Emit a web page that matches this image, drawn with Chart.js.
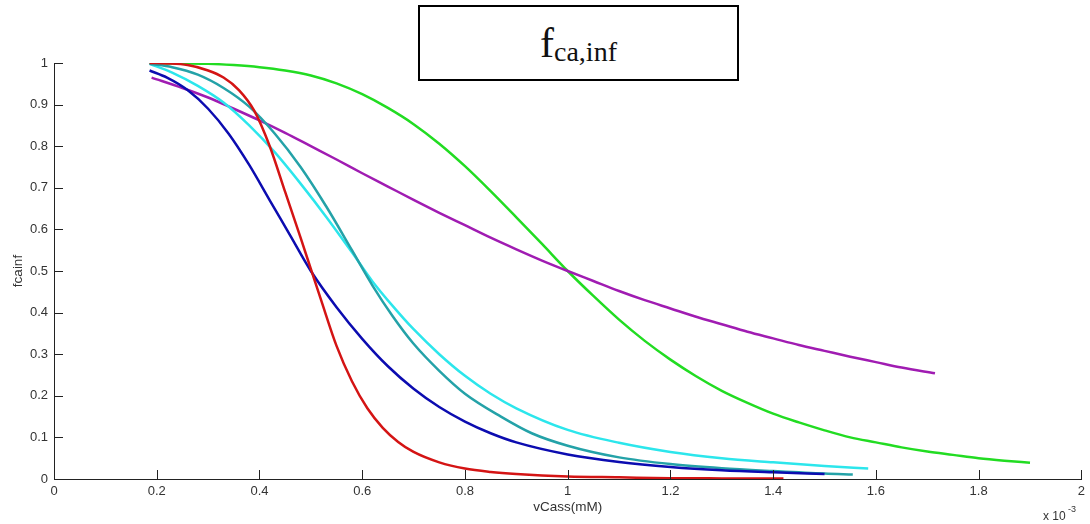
<!DOCTYPE html>
<html>
<head>
<meta charset="utf-8">
<script src="https://cdn.jsdelivr.net/npm/chart.js@4.4.1/dist/chart.umd.min.js"></script>
<style>
  html, body { margin: 0; padding: 0; background: #fff; }
  #wrap { position: relative; width: 1090px; height: 524px; }
  #titleBox {
    position: absolute; left: 418px; top: 5px; width: 321px; height: 76px;
    box-sizing: border-box; border: 2px solid #000; background: #fff;
    display: flex; align-items: center; justify-content: center;
    font-family: "Liberation Serif", serif; color: #111;
  }
  #titleBox .main { font-size: 42px; line-height: 1; }
  #titleBox .sub { font-size: 28px; position: relative; top: 9px; }
</style>
</head>
<body>
<div id="wrap">
  <canvas id="fcaChart" width="1090" height="524"></canvas>
  <div id="titleBox"><span class="main">f</span><span class="sub">ca,inf</span></div>
</div>
<script>
// vCass values in units of 1e-3 mM, fcainf values are fractions
const redX = [0.186, 0.22, 0.26, 0.30, 0.33, 0.36, 0.39, 0.42, 0.45, 0.48, 0.50, 0.52, 0.55, 0.58, 0.61, 0.64, 0.67, 0.70, 0.75, 0.80, 0.85, 0.90, 1.00, 1.10, 1.20, 1.30, 1.42];
const redY = [1.0, 0.999, 0.995, 0.982, 0.965, 0.935, 0.885, 0.80, 0.69, 0.58, 0.505, 0.43, 0.32, 0.235, 0.17, 0.123, 0.089, 0.065, 0.04, 0.025, 0.017, 0.012, 0.006, 0.004, 0.002, 0.0015, 0.001];

const blueX = [0.186, 0.22, 0.26, 0.30, 0.34, 0.38, 0.42, 0.46, 0.50, 0.55, 0.60, 0.65, 0.70, 0.75, 0.80, 0.85, 0.90, 1.00, 1.10, 1.20, 1.30, 1.40, 1.50];
const blueY = [0.982, 0.965, 0.935, 0.89, 0.83, 0.755, 0.67, 0.585, 0.50, 0.413, 0.337, 0.271, 0.217, 0.173, 0.138, 0.11, 0.088, 0.059, 0.041, 0.029, 0.021, 0.016, 0.012];

const tealX = [0.186, 0.23, 0.28, 0.33, 0.38, 0.43, 0.48, 0.53, 0.58, 0.62, 0.66, 0.70, 0.75, 0.80, 0.87, 0.93, 1.00, 1.10, 1.20, 1.30, 1.40, 1.50, 1.555];
const tealY = [0.998, 0.99, 0.972, 0.94, 0.895, 0.83, 0.75, 0.655, 0.55, 0.465, 0.39, 0.325, 0.26, 0.205, 0.15, 0.11, 0.08, 0.052, 0.036, 0.026, 0.019, 0.013, 0.011];

const cyanX = [0.186, 0.23, 0.28, 0.33, 0.38, 0.43, 0.48, 0.53, 0.58, 0.62, 0.66, 0.70, 0.75, 0.80, 0.85, 0.90, 1.00, 1.10, 1.20, 1.30, 1.40, 1.50, 1.585];
const cyanY = [0.998, 0.977, 0.945, 0.905, 0.85, 0.785, 0.71, 0.63, 0.545, 0.475, 0.415, 0.36, 0.30, 0.248, 0.205, 0.17, 0.118, 0.087, 0.065, 0.05, 0.04, 0.031, 0.025];

const greenX = [0.186, 0.25, 0.30, 0.35, 0.40, 0.45, 0.50, 0.55, 0.60, 0.65, 0.70, 0.75, 0.80, 0.85, 0.90, 0.95, 1.00, 1.05, 1.10, 1.15, 1.20, 1.25, 1.30, 1.35, 1.40, 1.45, 1.50, 1.55, 1.60, 1.65, 1.70, 1.75, 1.80, 1.85, 1.90];
const greenY = [1.0, 0.999, 0.998, 0.995, 0.99, 0.982, 0.97, 0.951, 0.925, 0.892, 0.853, 0.806, 0.752, 0.692, 0.629, 0.565, 0.50, 0.44, 0.383, 0.332, 0.287, 0.247, 0.212, 0.183, 0.157, 0.136, 0.117, 0.10, 0.088, 0.076, 0.066, 0.058, 0.05, 0.044, 0.039];

const purpleX = [0.19, 0.25, 0.30, 0.35, 0.40, 0.45, 0.50, 0.55, 0.60, 0.65, 0.70, 0.75, 0.80, 0.85, 0.90, 0.95, 1.00, 1.05, 1.10, 1.15, 1.20, 1.25, 1.30, 1.35, 1.40, 1.45, 1.50, 1.55, 1.60, 1.65, 1.715];
const purpleY = [0.965, 0.94, 0.917, 0.89, 0.862, 0.832, 0.80, 0.768, 0.735, 0.703, 0.671, 0.64, 0.61, 0.58, 0.552, 0.525, 0.50, 0.476, 0.452, 0.43, 0.41, 0.39, 0.372, 0.354, 0.338, 0.322, 0.308, 0.294, 0.281, 0.268, 0.254];

const xTicks = [0, 0.2, 0.4, 0.6, 0.8, 1, 1.2, 1.4, 1.6, 1.8, 2];
const yTicks = [0, 0.1, 0.2, 0.3, 0.4, 0.5, 0.6, 0.7, 0.8, 0.9, 1];

function toPoints(xs, ys) {
  return xs.map((x, i) => ({ x: x, y: ys[i] }));
}

function series(xs, ys, color) {
  return {
    data: toPoints(xs, ys),
    borderColor: color,
    borderWidth: 2.5,
    pointRadius: 0,
    fill: false,
    cubicInterpolationMode: 'monotone'
  };
}

// MATLAB style ticks pointing into the plot, plus the x exponent label
const inwardTicks = {
  id: 'inwardTicks',
  afterDraw(chart) {
    const ctx = chart.ctx;
    const xs = chart.scales.x, ys = chart.scales.y;
    const area = chart.chartArea;
    const len = 9;
    ctx.save();
    ctx.strokeStyle = '#222';
    ctx.lineWidth = 1;
    ctx.beginPath();
    xTicks.forEach(v => {
      const px = Math.round(xs.getPixelForValue(v)) + 0.5;
      ctx.moveTo(px, area.bottom);
      ctx.lineTo(px, area.bottom - len);
    });
    yTicks.forEach(v => {
      const py = Math.round(ys.getPixelForValue(v)) + 0.5;
      ctx.moveTo(area.left, py);
      ctx.lineTo(area.left + len, py);
    });
    ctx.stroke();

    ctx.fillStyle = '#333';
    ctx.textBaseline = 'alphabetic';
    ctx.textAlign = 'left';
    ctx.font = '12px "Liberation Sans", Arial, sans-serif';
    ctx.fillText('x 10', 1043, 520);
    ctx.font = '9px "Liberation Sans", Arial, sans-serif';
    ctx.fillText('-3', 1068, 512);
    ctx.restore();
  }
};

const tickFont = { family: '"Liberation Sans", Arial, sans-serif', size: 13 };
const titleFont = { family: '"Liberation Sans", Arial, sans-serif', size: 13.5 };

new Chart(document.getElementById('fcaChart'), {
  type: 'line',
  data: {
    datasets: [
      series(redX, redY, '#d41414'),
      series(blueX, blueY, '#0c0cb0'),
      series(tealX, tealY, '#24a2a8'),
      series(cyanX, cyanY, '#2ce6ec'),
      series(purpleX, purpleY, '#a01cb2'),
      series(greenX, greenY, '#22dc22')
    ]
  },
  options: {
    responsive: false,
    animation: false,
    events: [],
    layout: { padding: { top: 63, right: 7, left: 0, bottom: 0 } },
    plugins: {
      legend: { display: false },
      tooltip: { enabled: false }
    },
    scales: {
      x: {
        type: 'linear',
        min: 0,
        max: 2,
        afterFit: s => { s.height = 45; },
        afterBuildTicks: s => { s.ticks = xTicks.map(v => ({ value: v })); },
        grid: { drawOnChartArea: false, drawTicks: false },
        border: { display: true, color: '#222', width: 1 },
        ticks: {
          color: '#333',
          padding: 5,
          maxRotation: 0,
          autoSkip: false,
          font: tickFont,
          callback: v => String(Math.round(v * 10) / 10)
        },
        title: {
          display: true,
          text: 'vCass(mM)',
          color: '#333',
          font: titleFont,
          padding: { top: 0, bottom: 9 }
        }
      },
      y: {
        type: 'linear',
        min: 0,
        max: 1,
        afterFit: s => { s.width = 54; },
        afterBuildTicks: s => { s.ticks = yTicks.map(v => ({ value: v })); },
        grid: { drawOnChartArea: false, drawTicks: false },
        border: { display: true, color: '#222', width: 1 },
        ticks: {
          color: '#333',
          padding: 6,
          autoSkip: false,
          font: tickFont,
          callback: v => String(Math.round(v * 10) / 10)
        },
        title: {
          display: true,
          text: 'fcainf',
          color: '#333',
          font: titleFont,
          padding: { top: 10, bottom: 0 }
        }
      }
    }
  },
  plugins: [inwardTicks]
});
</script>
</body>
</html>
